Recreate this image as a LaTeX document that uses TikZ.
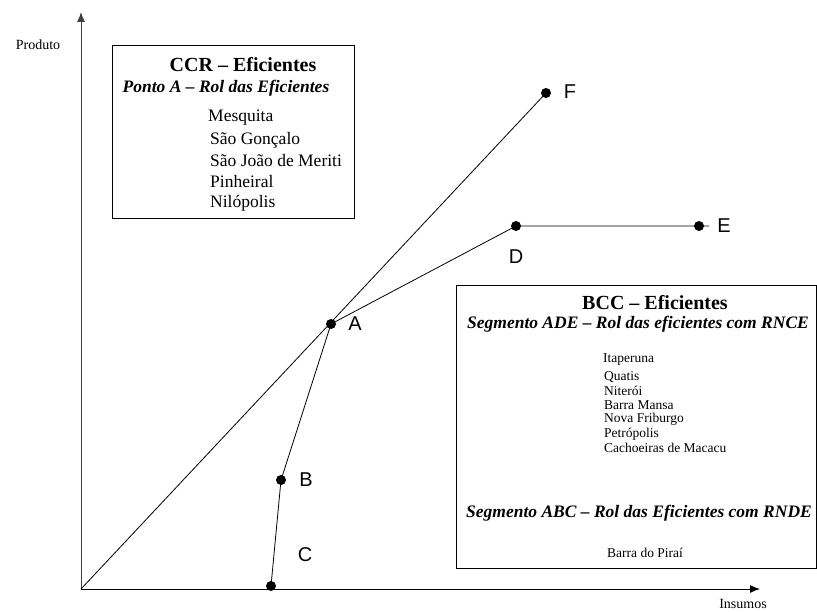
\documentclass[tikz,border=0pt]{standalone}
\usepackage{fontspec}
\setmainfont{Liberation Serif}
\newfontfamily\labfont{Liberation Sans}
\usetikzlibrary{arrows.meta}
\begin{document}
\begin{tikzpicture}[x=1pt,y=-1pt,
  dot/.style={circle,fill=black,inner sep=0pt,minimum size=10pt},
  lbl/.style={font=\labfont\fontsize{20}{20}\selectfont,inner sep=0pt},
  item/.style={anchor=west,inner sep=0pt,font=\fontsize{17.5}{18}\selectfont},
  sitem/.style={anchor=west,inner sep=0pt,font=\fontsize{13.5}{14}\selectfont},
  ttl/.style={inner sep=0pt,font=\bfseries\fontsize{20}{20}\selectfont},
  subttl/.style={inner sep=0pt,font=\bfseries\itshape\fontsize{17.5}{18}\selectfont},
  boxframe/.style={draw,line width=1pt,anchor=north west,inner sep=0pt},
  ln/.style={line width=0.8pt},
  axis/.style={line width=1pt,-{Latex[length=10pt,width=8pt]}}]
\useasboundingbox (0,0) rectangle (817,612);

% axes
\coordinate (O) at (81,589);
\coordinate (ytip) at (81,12);
\coordinate (xtip) at (760,589);
\draw[axis,black!75] (O) -- (ytip);
\draw[axis] (O) -- (xtip);
\node[inner sep=0pt,font=\fontsize{14}{14}\selectfont] (prod) at (38,45) {Produto};
\node[inner sep=0pt,font=\fontsize{14}{14}\selectfont] (ins) at (743,604) {Insumos};

% points
\node[dot] (A) at (331,324) {};
\node[dot] (B) at (281,480) {};
\node[dot] (C) at (271,586) {};
\node[dot] (D) at (516,226) {};
\node[dot] (E) at (699,226) {};
\node[dot] (F) at (546,93) {};
\coordinate (Eend) at (709,226);

% lines
\draw[ln] (O) -- (F.center);
\draw[ln] (A.center) -- (D.center) -- (E.center) -- (Eend);
\draw[ln] (A.center) -- (B.center) -- (C.center);

% point labels
\node[lbl] (lA) at (355,324) {A};
\node[lbl] (lB) at (306,480) {B};
\node[lbl] (lC) at (305,555) {C};
\node[lbl] (lD) at (516,257) {D};
\node[lbl] (lE) at (724,226) {E};
\node[lbl] (lF) at (570,92) {F};

% CCR box
\node[boxframe,minimum width=242pt,minimum height=173pt] (ccr) at (112,45) {};
\node[ttl] (ccrt) at (243,65) {CCR -- Eficientes};
\node[subttl] (ccrs) at (226,88) {Ponto A -- Rol das Eficientes};
\node[item] (m1) at (208,118) {Mesquita};
\node[item] (m2) at (210,140) {São Gonçalo};
\node[item] (m3) at (210,161) {São João de Meriti};
\node[item] (m4) at (210,182) {Pinheiral};
\node[item] (m5) at (210,203) {Nilópolis};

% BCC box
\node[boxframe,minimum width=360pt,minimum height=283pt] (bcc) at (456,285) {};
\node[ttl] (bcct) at (655,303) {BCC -- Eficientes};
\node[subttl] (bccs) at (638,324) {Segmento ADE -- Rol das eficientes com RNCE};
\node[sitem] (b1) at (603,360) {Itaperuna};
\node[sitem] (b2) at (604,377) {Quatis};
\node[sitem] (b3) at (604,391) {Niterói};
\node[sitem] (b4) at (604,405) {Barra Mansa};
\node[sitem] (b5) at (604,419) {Nova Friburgo};
\node[sitem] (b6) at (604,434) {Petrópolis};
\node[sitem] (b7) at (604,448) {Cachoeiras de Macacu};
\node[subttl] (bccs2) at (639,513) {Segmento ABC -- Rol das Eficientes com RNDE};
\node[sitem] (b8) at (607,553) {Barra do Piraí};
\end{tikzpicture}
\end{document}
